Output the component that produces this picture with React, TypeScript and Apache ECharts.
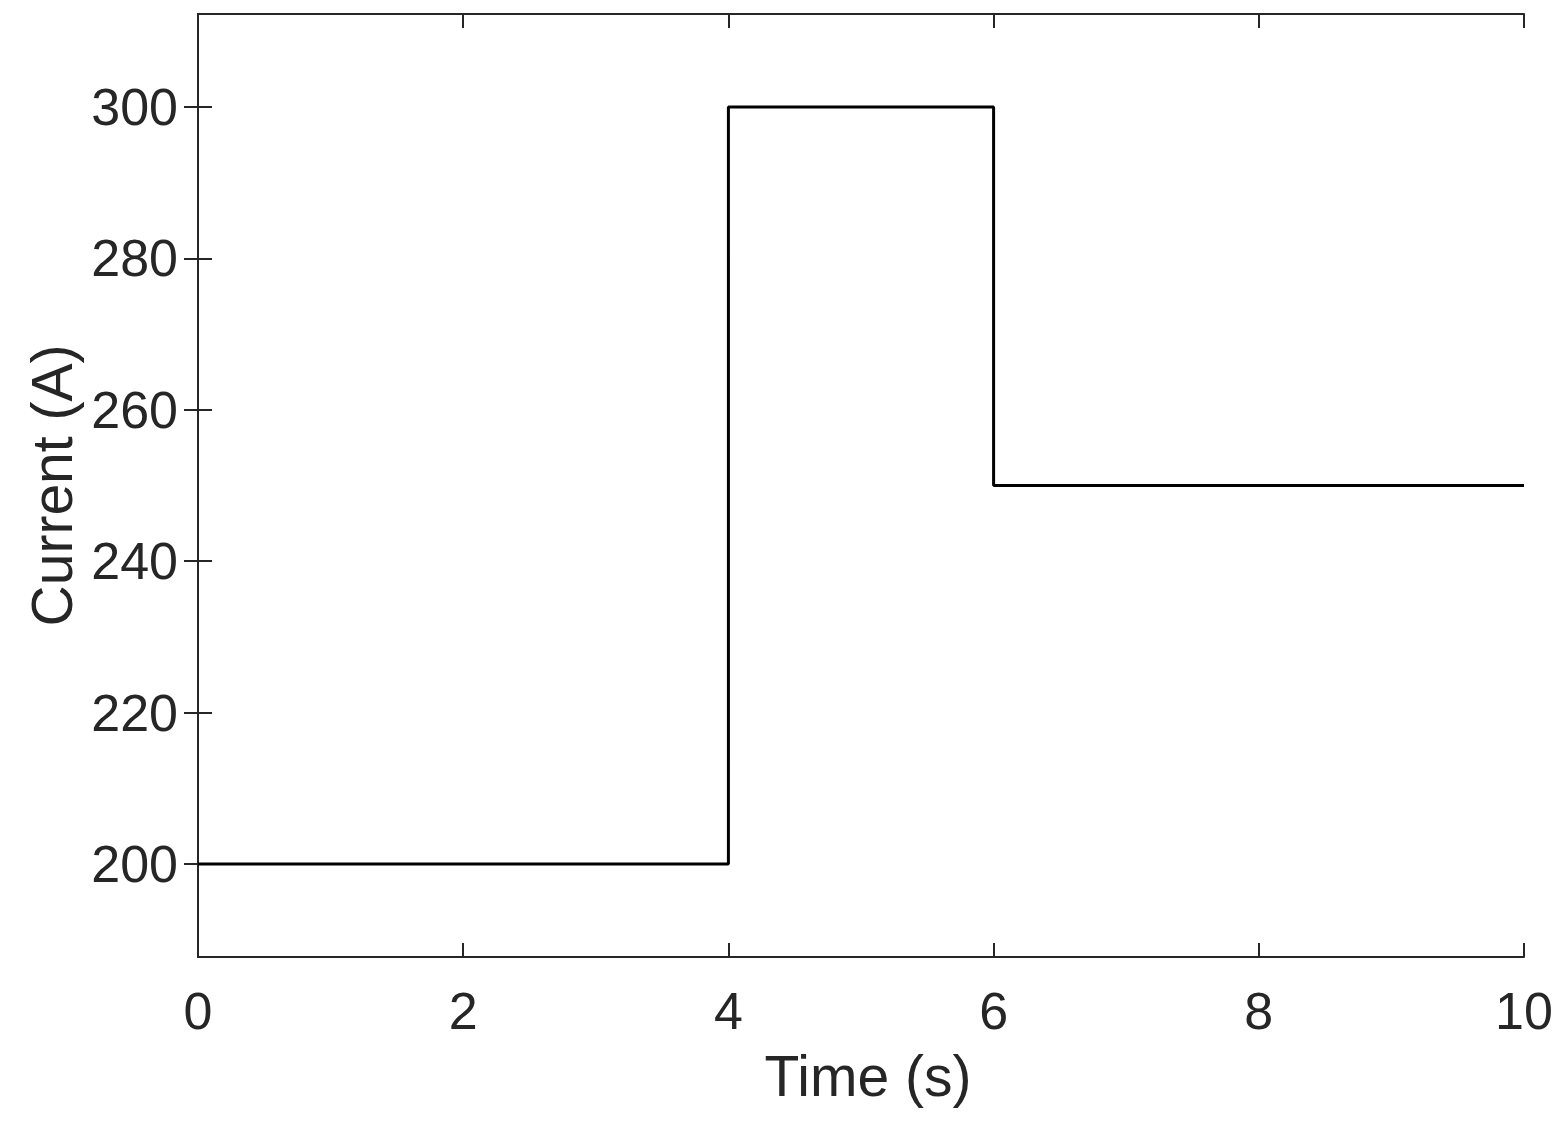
import React, { useEffect, useRef } from "react";
import * as echarts from "echarts";

const timeValues = [0, 4, 4, 6, 6, 10];
const currentValues = [200, 200, 300, 300, 250, 250];
const xTicks = [0, 2, 4, 6, 8, 10];
const yTicks = [200, 220, 240, 260, 280, 300];

const AXIS_COLOR = "#262626";
const FONT = "'Liberation Sans', Arial, sans-serif";

export default function App() {
  const ref = useRef<HTMLDivElement>(null);
  useEffect(() => {
    document.body.style.margin = "0";
    const chart = echarts.init(ref.current!, null, { renderer: "svg" });
    const axisLine = { show: true, lineStyle: { color: AXIS_COLOR, width: 2 } };
    const tick = (vals: number[]) => ({
      show: true,
      inside: true,
      length: 14,
      customValues: vals,
      lineStyle: { color: AXIS_COLOR, width: 2 },
    });
    chart.setOption({
      animation: false,
      backgroundColor: "#ffffff",
      grid: { left: 198, top: 14, right: 40, bottom: 171, containLabel: false },
      xAxis: [
        {
          type: "value",
          min: 0,
          max: 10,
          position: "bottom",
          axisLine,
          axisTick: tick(xTicks),
          splitLine: { show: false },
          axisLabel: {
            customValues: xTicks,
            color: AXIS_COLOR,
            fontSize: 52,
            fontFamily: FONT,
            margin: 28,
          },
          name: "Time (s)",
          nameLocation: "middle",
          nameGap: 90,
          nameTextStyle: { color: AXIS_COLOR, fontSize: 57, fontFamily: FONT, padding: [0, 0, 0, 14] },
        },
        {
          type: "value",
          min: 0,
          max: 10,
          position: "top",
          axisLine,
          axisTick: tick(xTicks),
          splitLine: { show: false },
          axisLabel: { show: false },
        },
      ],
      yAxis: [
        {
          type: "value",
          min: 187.71,
          max: 312.29,
          position: "left",
          axisLine,
          axisTick: tick(yTicks),
          splitLine: { show: false },
          axisLabel: {
            customValues: yTicks,
            color: AXIS_COLOR,
            fontSize: 52,
            fontFamily: FONT,
            margin: 20,
          },
          name: "Current (A)",
          nameLocation: "middle",
          nameGap: 116,
          nameTextStyle: { color: AXIS_COLOR, fontSize: 57, fontFamily: FONT },
        },
        {
          type: "value",
          min: 187.71,
          max: 312.29,
          position: "right",
          axisLine,
          axisTick: tick(yTicks),
          splitLine: { show: false },
          axisLabel: { show: false },
        },
      ],
      series: [
        {
          type: "line",
          data: timeValues.map((t, i) => [t, currentValues[i]]),
          showSymbol: false,
          lineStyle: { color: "#000000", width: 3 },
          xAxisIndex: 0,
          yAxisIndex: 0,
        },
      ],
    });
    return () => chart.dispose();
  }, []);
  return <div ref={ref} style={{ width: 1564, height: 1128 }} />;
}
